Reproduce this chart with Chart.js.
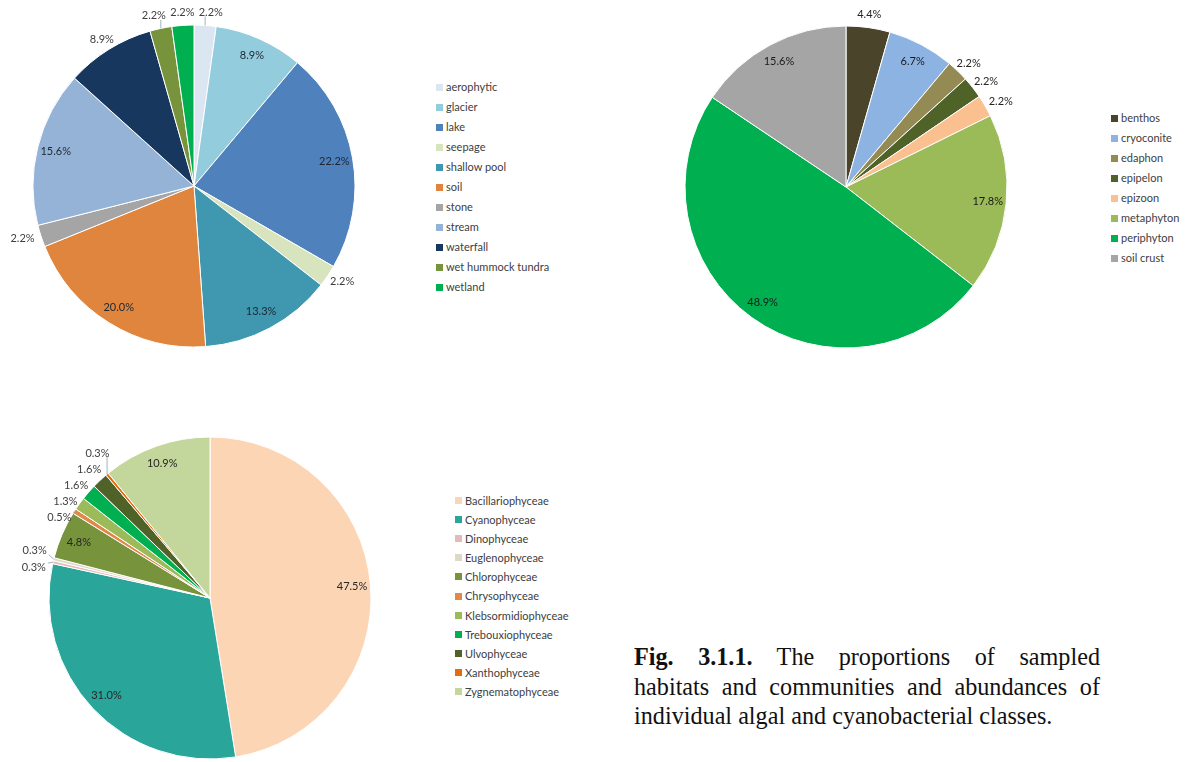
<!DOCTYPE html>
<html>
<head>
<meta charset="utf-8">
<script src="https://cdn.jsdelivr.net/npm/chart.js@4"></script>
<style>
  html, body { margin: 0; padding: 0; background: #fff; overflow: hidden; }
  body { width: 1191px; height: 762px; position: relative; }
  canvas { position: absolute; }
  .leyenda { position: absolute; margin: 0; padding: 0; list-style: none; font-family: Lato, "Open Sans", sans-serif; font-size: 11px; color: #404040; }
  .leyenda li { position: relative; padding-left: 10px; white-space: nowrap; }
  .leyenda li span { position: absolute; left: 0; top: 50%; width: 7px; height: 7px; margin-top: -3.5px; }
  #caption { position: absolute; left: 634px; top: 642px; width: 466px; font-family: "Liberation Serif", "DejaVu Serif", serif; font-size: 24.2px; line-height: 29.5px; color: #111; }
  #caption .just { text-align: justify; text-align-last: justify; }
</style>
</head>
<body>

<canvas id="habitats" width="388" height="372" style="left:0;top:0"></canvas>
<ul class="leyenda" id="legHabitats" style="left:436px;top:77px"></ul>

<canvas id="communities" width="400" height="374" style="left:646px;top:0"></canvas>
<ul class="leyenda" id="legCommunities" style="left:1111px;top:108px"></ul>

<canvas id="classes" width="420" height="336" style="left:0;top:430px"></canvas>
<ul class="leyenda" id="legClasses" style="left:455px;top:491px"></ul>

<div id="caption">
  <div class="just"><b>Fig. 3.1.1.</b> The proportions of sampled</div>
  <div class="just">habitats and communities and abundances of</div>
  <div>individual algal and cyanobacterial classes.</div>
</div>

<script>
// DATOS
const habitatLabels = ['aerophytic', 'glacier', 'lake', 'seepage', 'shallow pool', 'soil', 'stone', 'stream', 'waterfall', 'wet hummock tundra', 'wetland']
const habitatValues = [2.2, 8.9, 22.2, 2.2, 13.3, 20.0, 2.2, 15.6, 8.9, 2.2, 2.2]
const habitatColors = ['#dce6f2', '#93cddd', '#4f81bd', '#d7e4bd', '#3f98b0', '#df853d', '#a5a5a5', '#95b3d7', '#17375e', '#77933c', '#00b050']

const communityLabels = ['benthos', 'cryoconite', 'edaphon', 'epipelon', 'epizoon', 'metaphyton', 'periphyton', 'soil crust']
const communityValues = [4.4, 6.7, 2.2, 2.2, 2.2, 17.8, 48.9, 15.6]
const communityColors = ['#4a452a', '#8db3e2', '#948a54', '#4f6228', '#fac090', '#9bbb59', '#00b050', '#a5a5a5']

const classLabels = ['Bacillariophyceae', 'Cyanophyceae', 'Dinophyceae', 'Euglenophyceae', 'Chlorophyceae', 'Chrysophyceae', 'Klebsormidiophyceae', 'Trebouxiophyceae', 'Ulvophyceae', 'Xanthophyceae', 'Zygnematophyceae']
const classValues = [47.5, 31.0, 0.3, 0.3, 4.8, 0.5, 1.3, 1.6, 1.6, 0.3, 10.9]
const classColors = ['#fcd5b5', '#29a59a', '#e6b9b8', '#dcdac6', '#77933c', '#e0894a', '#9bbb59', '#00b050', '#4f6228', '#e46c0a', '#c3d69b']

// luminancia del color (para sacar la etiqueta fuera si el sector es muy oscuro)
const luminancia = (hex) => {
    const c = [1, 3, 5].map(k => parseInt(hex.substr(k, 2), 16) / 255)
        .map(v => v <= 0.03928 ? v / 12.92 : Math.pow((v + 0.055) / 1.055, 2.4))
    return 0.2126 * c[0] + 0.7152 * c[1] + 0.0722 * c[2]
}

// ETIQUETAS DE PORCENTAJE
const labelPlugin = {
    id: 'pctLabels',
    afterDatasetsDraw: (chart) => {
        const ctx = chart.ctx
        const meta = chart.getDatasetMeta(0)
        const values = chart.data.datasets[0].data
        const colors = chart.data.datasets[0].backgroundColor
        const opts = chart.options.plugins.pctLabels
        ctx.save()
        ctx.font = '11px Lato, "Open Sans", sans-serif'
        ctx.textAlign = 'center'
        ctx.textBaseline = 'middle'

        const outside = []
        meta.data.forEach((arc, i) => {
            const p = arc.getProps(['x', 'y', 'startAngle', 'endAngle', 'outerRadius'])
            const mid = (p.startAngle + p.endAngle) / 2
            const txt = values[i].toFixed(1) + '%'
            const cos = Math.cos(mid), sin = Math.sin(mid)
            if (values[i] >= 4.5 && luminancia(colors[i]) > 0.1) {
                const d = p.outerRadius * 0.885
                ctx.fillStyle = opts.inColor
                ctx.fillText(txt, p.x + cos * d, p.y + sin * d)
            } else {
                const w = ctx.measureText(txt).width + 4
                const h = 16
                const d = p.outerRadius + 6
                const cx = p.x + cos * (d + w / 2 * Math.abs(cos))
                const cy = p.y + sin * (d + 7 * Math.abs(sin))
                outside.push({ txt, w, h, cx, cy, nx: cx, ny: cy, ex: p.x + cos * p.outerRadius, ey: p.y + sin * p.outerRadius })
            }
        })

        // separar etiquetas que se pisan
        for (let it = 0; it < 100; it++) {
            for (let i = 0; i < outside.length; i++) {
                for (let j = i + 1; j < outside.length; j++) {
                    const a = outside[i], b = outside[j]
                    const ox = (a.w + b.w) / 2 - Math.abs(a.cx - b.cx)
                    const oy = (a.h + b.h) / 2 - Math.abs(a.cy - b.cy)
                    if (ox > 0 && oy > 0) {
                        if (oy < ox) {
                            const dir = b.cy < a.cy ? -1 : 1
                            a.cy -= dir * (oy / 2 + 0.2)
                            b.cy += dir * (oy / 2 + 0.2)
                        } else {
                            const dir = b.cx < a.cx ? -1 : 1
                            a.cx -= dir * (ox / 2 + 0.2)
                            b.cx += dir * (ox / 2 + 0.2)
                        }
                    }
                }
            }
        }

        outside.forEach(l => {
            const moved = Math.hypot(l.cx - l.nx, l.cy - l.ny)
            if (moved > 5) {
                const px = Math.max(l.cx - l.w / 2, Math.min(l.ex, l.cx + l.w / 2))
                const py = Math.max(l.cy - 4, Math.min(l.ey, l.cy + 4))
                ctx.strokeStyle = '#8f9cb0'
                ctx.lineWidth = 0.8
                ctx.beginPath()
                ctx.moveTo(px, py)
                ctx.lineTo(l.ex, l.ey)
                ctx.stroke()
            }
            ctx.fillStyle = opts.outColor
            ctx.fillText(l.txt, l.cx, l.cy)
        })
        ctx.restore()
    }
}

// CREA EL GRAFICO
const crearPie = (id, labels, values, colors, inColor, outColor) => {
    new Chart(document.getElementById(id), {
        type: 'pie',
        data: {
            labels: labels,
            datasets: [{
                data: values,
                backgroundColor: colors,
                borderColor: '#ffffff',
                borderWidth: 1,
            }]
        },
        options: {
            responsive: false,
            animation: false,
            radius: 161,
            events: [],
            plugins: {
                legend: { display: false },
                tooltip: { enabled: false },
                pctLabels: { inColor: inColor, outColor: outColor }
            }
        },
        plugins: [labelPlugin]
    })
}

// LEYENDA
const crearLeyenda = (id, labels, colors, paso) => {
    const fragment = document.createDocumentFragment()
    labels.forEach((lab, i) => {
        const li = document.createElement('li')
        li.style.height = paso + 'px'
        li.style.lineHeight = paso + 'px'
        const sq = document.createElement('span')
        sq.style.background = colors[i]
        li.appendChild(sq)
        li.appendChild(document.createTextNode(lab))
        fragment.appendChild(li)
    })
    document.getElementById(id).appendChild(fragment)
}

crearPie('habitats', habitatLabels, habitatValues, habitatColors, '#1d2733', '#404040')
crearPie('communities', communityLabels, communityValues, communityColors, '#1a1a1a', '#262626')
crearPie('classes', classLabels, classValues, classColors, '#262626', '#404040')

crearLeyenda('legHabitats', habitatLabels, habitatColors, 20)
crearLeyenda('legCommunities', communityLabels, communityColors, 20)
crearLeyenda('legClasses', classLabels, classColors, 19.1)
</script>
</body>
</html>
